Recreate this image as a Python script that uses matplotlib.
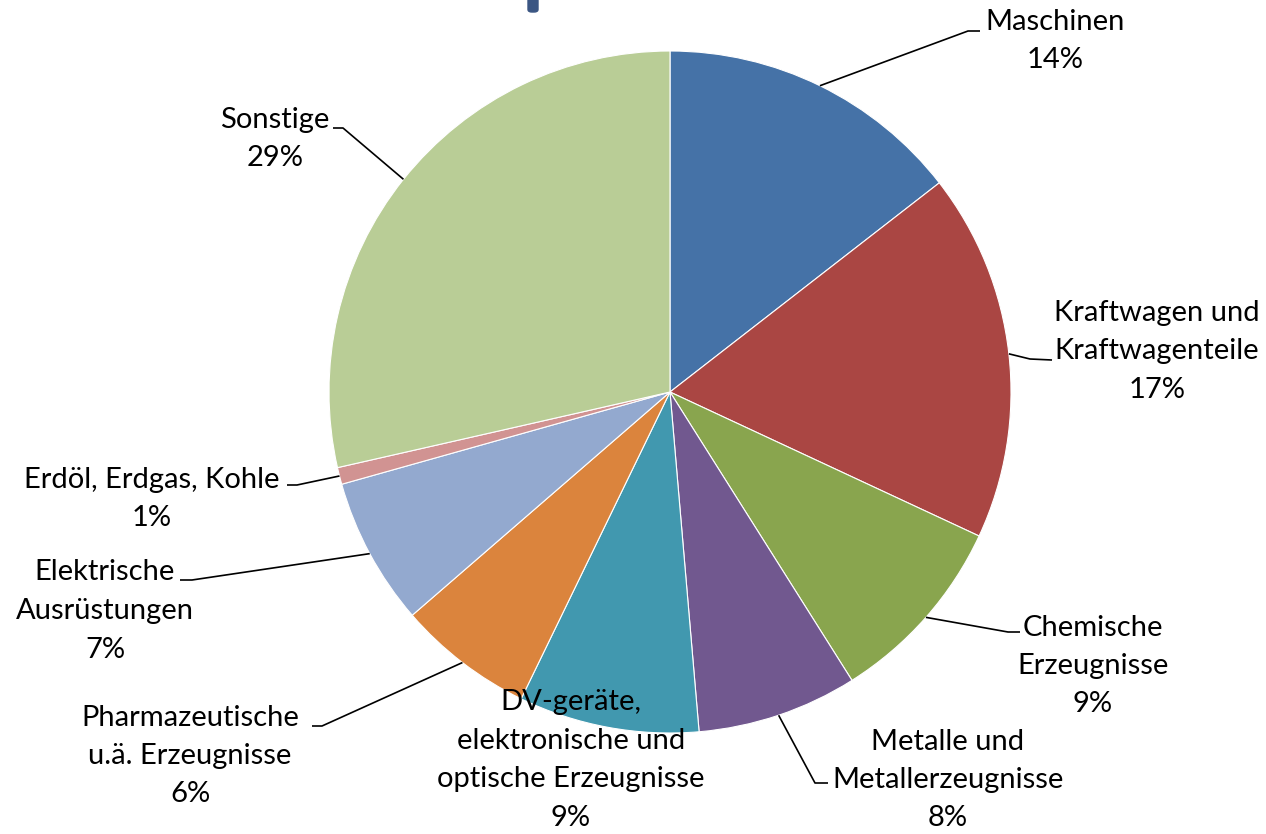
import numpy as np
import matplotlib
matplotlib.use("Agg")
import matplotlib.pyplot as plt
from matplotlib.patches import FancyBboxPatch

plt.rcParams['font.family'] = ['Lato', 'DejaVu Sans']

# Anteile in Prozent (im Uhrzeigersinn ab 12 Uhr)
labels = ["Maschinen", "Kraftwagen und\nKraftwagenteile", "Chemische\nErzeugnisse",
          "Metalle und\nMetallerzeugnisse", "DV-geräte,\nelektronische und\noptische Erzeugnisse",
          "Pharmazeutische\nu.ä. Erzeugnisse", "Elektrische\nAusrüstungen",
          "Erdöl, Erdgas, Kohle", "Sonstige"]
values = [14.49, 17.45, 9.1, 7.6, 8.55, 6.45, 7.0, 0.8, 28.56]
colors = ["#4572A7", "#AA4643", "#89A54E", "#71588F", "#4198AF",
          "#DB843D", "#93A9CF", "#D19392", "#B9CD96"]

W, H = 1266, 834
cx, cy, R = 670, 392, 341

# label block centres (pixel coords, y from top) and leader elbows
text_pos = [(1055, 41), (1157, 351), (1093, 666), (948, 780), (571, 760),
            (190, 756), (105, 611), (152, 499), (275, 139)]
elbows = [[(968, 31), (980, 31)],
          [(1030, 359), (1052, 360)],
          [(1008, 632), (1020, 632)],
          [(815, 783), (828, 783)],
          None,
          [(322, 726), (312, 726)],
          [(192, 580), (180, 580)],
          [(297, 485), (287, 485)],
          [(343, 128), (333, 128)]]

def P(x, y):
    return x, H - y

fig = plt.figure(figsize=(W / 100, H / 100), dpi=100)
ax = fig.add_axes([0, 0, 1, 1])

wedges, _ = ax.pie(values, colors=colors, startangle=90, counterclock=False,
                   center=P(cx, cy), radius=R, frame=True,
                   wedgeprops=dict(edgecolor='white', linewidth=0.8))
ax.set_xlim(0, W)
ax.set_ylim(0, H)
ax.set_aspect('equal')
ax.axis('off')

cum = np.cumsum([0] + values[:-1])
line_h = 38.5
for i, lab in enumerate(labels):
    mid = np.deg2rad((cum[i] + values[i] / 2) / 100 * 360)
    sx, sy = cx + R * np.sin(mid), cy - R * np.cos(mid)
    if elbows[i] is not None:
        pts = [(sx, sy)] + elbows[i]
        xs = [p[0] for p in pts]
        ys = [H - p[1] for p in pts]
        ax.plot(xs, ys, color='black', lw=1.2, solid_capstyle='butt')
    lines = lab.split('\n') + ["%.0f%%" % values[i]]
    tx, ty = text_pos[i]
    top = ty - line_h * (len(lines) - 1) / 2
    for k, s in enumerate(lines):
        ax.text(tx, H - (top + k * line_h), s, ha='center', va='center',
                fontsize=21, color='black')

# Rest des abgeschnittenen Titels oben
fig.patches.append(FancyBboxPatch((528 / W, 1 - 12 / H), 10 / W, 14 / H,
                                  boxstyle="round,pad=0,rounding_size=0.003",
                                  transform=fig.transFigure, color="#3B5683"))

fig.savefig("out.png", dpi=100)
